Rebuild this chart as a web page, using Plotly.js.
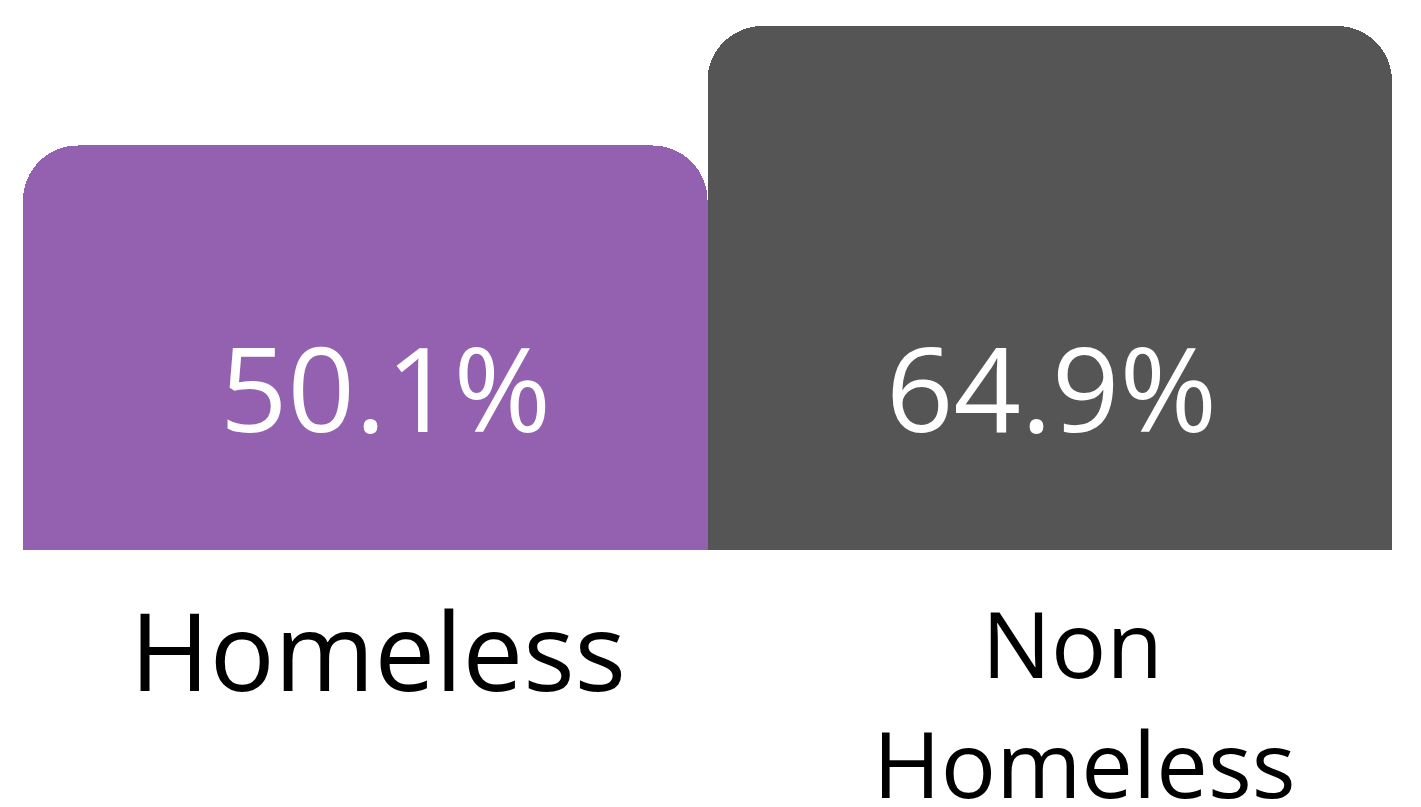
<!DOCTYPE html>
<html>
<head>
<meta charset="utf-8">
<script src="https://cdn.plot.ly/plotly-3.0.1.min.js"></script>
<style>html,body{margin:0;padding:0;background:#fff;}#chart{width:1421px;height:807px;}</style>
</head>
<body>
<div id="chart"></div>
<script>
const categories = ["Homeless", "Non Homeless"];
const values = [50.1, 64.9];
const valueLabels = ["50.1%", "64.9%"];
const categoryLabels = ["Homeless", "Non\u00A0<br>Homeless"];
const colors = ["#9461B0", "#555555"];

const trace = {
  type: "bar",
  x: categories,
  y: values,
  marker: { color: colors, line: { width: 0 } },
  hoverinfo: "none"
};

const valueStyle = [{ xshift: 20 }, { xshift: 2 }];
const labelStyle = [
  { size: 108, xshift: 13, yshift: -24 },
  { size: 92, xshift: 35, yshift: -28 }
];

const annotations = [];
categories.forEach((c, i) => {
  annotations.push({
    x: c, xref: "x",
    y: 0.312, yref: "paper",
    text: valueLabels[i],
    showarrow: false,
    xanchor: "center", yanchor: "middle",
    xshift: valueStyle[i].xshift,
    font: { family: "Open Sans", size: 118, color: "#ffffff" }
  });
  annotations.push({
    x: c, xref: "x",
    y: 0, yref: "paper",
    text: categoryLabels[i],
    showarrow: false,
    xanchor: "center", yanchor: "top", align: "center",
    xshift: labelStyle[i].xshift, yshift: labelStyle[i].yshift,
    font: { family: "Open Sans", size: labelStyle[i].size, color: "#000000" }
  });
});

const layout = {
  width: 1421, height: 807,
  margin: { l: 23, r: 29, t: 26, b: 257 },
  paper_bgcolor: "#ffffff",
  plot_bgcolor: "#ffffff",
  bargap: 0,
  barcornerradius: 55,
  showlegend: false,
  font: { family: "Open Sans", color: "#000000" },
  xaxis: {
    showticklabels: false,
    showgrid: false, zeroline: false, showline: false, ticks: ""
  },
  yaxis: {
    range: [0, Math.max(...values)],
    autorange: false,
    visible: false,
    showgrid: false, zeroline: false
  },
  annotations: annotations
};

Plotly.newPlot("chart", [trace], layout, { displayModeBar: false, staticPlot: true });
</script>
</body>
</html>
